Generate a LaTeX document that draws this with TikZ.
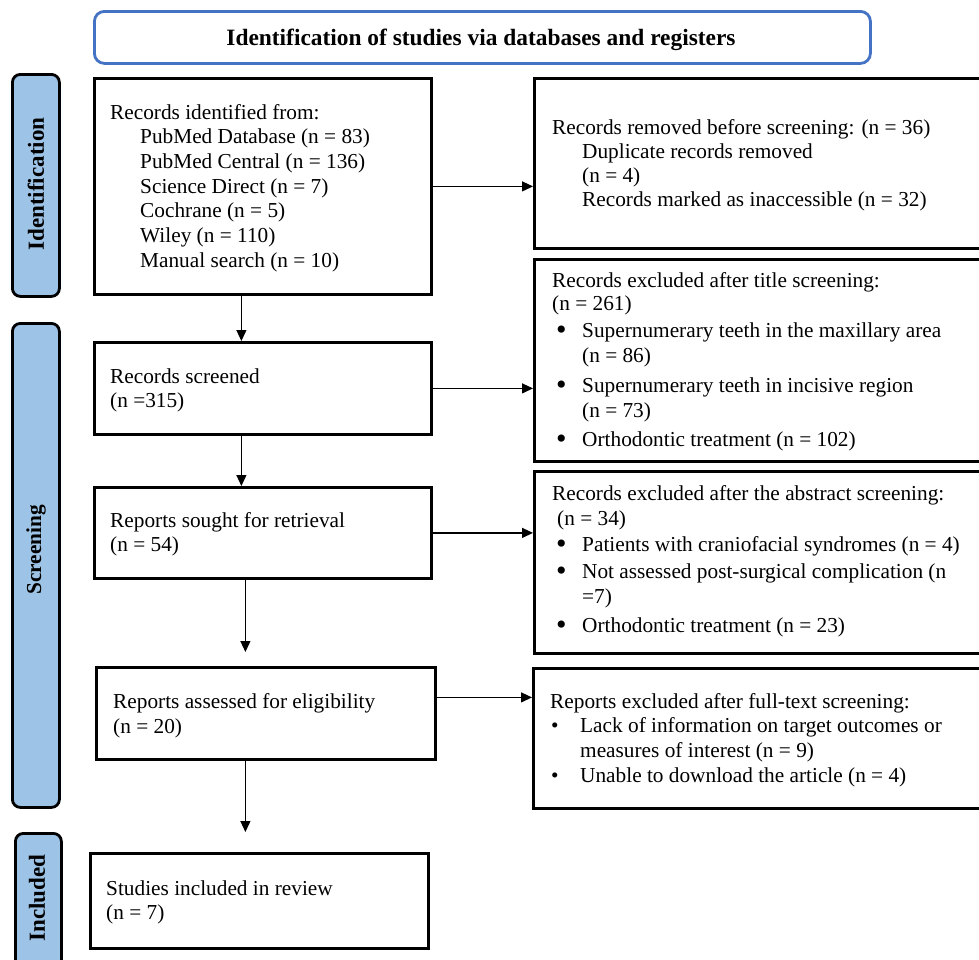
\documentclass[tikz,border=0pt]{standalone}
\usepackage{fontspec}
\setmainfont{Liberation Serif}
\usetikzlibrary{arrows.meta}
\definecolor{hdrblue}{HTML}{4472C4}
\definecolor{sidefill}{HTML}{9DC3E6}
\newcommand\blk[2]{\vtop{\baselineskip=#1pt\lineskiplimit=-100pt\lineskip=0pt #2}}
\newcommand\tl[1]{\hbox{#1}}
\newcommand\gap[1]{\vskip#1pt}
\newcommand\bigbul[1]{\hbox{\hbox to 30pt{\kern4pt\raisebox{-2.5pt}{\fontsize{30}{30}\selectfont\textbullet}\hfil}#1}}
\newcommand\smbul[1]{\hbox{\hbox to 30pt{\kern1pt\textbullet\hfil}#1}}
\newcommand\ind[1]{\hbox{\kern30pt #1}}
\begin{document}
\begin{tikzpicture}[x=1pt,y=-1pt,
  box/.style={draw, line width=2.8pt, inner sep=0pt, anchor=north west},
  hdrbox/.style={draw=hdrblue, line width=2.8pt, rounded corners=10pt, inner sep=0pt, anchor=north west},
  side/.style={draw, fill=sidefill, line width=2.8pt, rounded corners=8pt, inner sep=0pt, anchor=north west},
  sidetxt/.style={rotate=90, font=\fontsize{23}{26}\selectfont\bfseries, inner sep=0pt},
  txt/.style={anchor=base west, inner sep=0pt, font=\fontsize{21.3}{25}\selectfont},
  conn/.style={line width=1.2pt, -{Triangle[length=11pt,width=10pt]}}]
\clip (0,0) rectangle (979,959);
\fill[white] (0,0) rectangle (979,959);

% header
\node[hdrbox, minimum width=776pt, minimum height=52pt] (hdr) at (93,10) {};
\node[anchor=base, inner sep=0pt, font=\fontsize{23.4}{26}\selectfont\bfseries] (hdrt) at (481,45) {Identification of studies via databases and registers};

% side bars
\node[side, minimum width=47pt, minimum height=222pt] (sid) at (11,73) {};
\node[sidetxt] (sidt) at (36,184) {Identification};
\node[side, minimum width=47pt, minimum height=484pt] (sscr) at (11,322) {};
\node[sidetxt, font=\fontsize{21.3}{25}\selectfont\bfseries] (sscrt) at (36,550) {Screening};
\node[side, minimum width=46pt, minimum height=170pt] (sinc) at (14,832) {};
\node[sidetxt] (sinct) at (37,898) {Included};

% boxes
\node[box, minimum width=337pt, minimum height=216pt] (A) at (93,77) {};
\node[box, minimum width=460pt, minimum height=170pt] (B) at (533,77) {};
\node[box, minimum width=337pt, minimum height=92pt] (C) at (93,341) {};
\node[box, minimum width=460pt, minimum height=202pt] (D) at (533,258) {};
\node[box, minimum width=337pt, minimum height=91pt] (E) at (93,486) {};
\node[box, minimum width=460pt, minimum height=182pt] (F) at (533,470) {};
\node[box, minimum width=339pt, minimum height=92pt] (G) at (95,666) {};
\node[box, minimum width=460pt, minimum height=140pt] (H) at (532,667) {};
\node[box, minimum width=338pt, minimum height=95pt] (I) at (89,852) {};

% texts
\node[txt] (At) at (110,119) {\blk{24.67}{\tl{Records identified from:}\ind{PubMed Database (n = 83)}\ind{PubMed Central (n = 136)}\ind{Science Direct (n = 7)}\ind{Cochrane (n = 5)}\ind{Wiley (n = 110)}\ind{Manual search (n = 10)}}};
\node[txt] (Bt) at (552,134) {\blk{24}{\tl{Records removed before screening: (n = 36)}\ind{Duplicate records removed}\ind{(n = 4)}\ind{Records marked as inaccessible (n = 32)}}};
\node[txt] (Ct) at (110,383) {\blk{24}{\tl{Records screened}\tl{(n =315)}}};
\node[txt] (Dt) at (552,287) {\blk{25}{\tl{Records excluded after title screening:}\gap{-2}\tl{(n = 261)}\gap{2}\bigbul{Supernumerary teeth in the maxillary area}\ind{(n = 86)}\gap{5}\bigbul{Supernumerary teeth in incisive region}\ind{(n = 73)}\gap{4}\bigbul{Orthodontic treatment (n = 102)}}};
\node[txt] (Et) at (110,527) {\blk{24}{\tl{Reports sought for retrieval}\tl{(n = 54)}}};
\node[txt] (Ft) at (552,500) {\blk{25}{\tl{Records excluded after the abstract screening:}\tl{\kern5pt(n = 34)}\gap{1}\bigbul{Patients with craniofacial syndromes (n = 4)}\gap{2}\bigbul{Not assessed post-surgical complication (n}\ind{=7)}\gap{4}\bigbul{Orthodontic treatment (n = 23)}}};
\node[txt] (Gt) at (113,708) {\blk{25}{\tl{Reports assessed for eligibility}\tl{(n = 20)}}};
\node[txt] (Ht) at (550,708) {\blk{24.67}{\tl{Reports excluded after full-text screening:}\smbul{Lack of information on target outcomes or}\ind{measures of interest (n = 9)}\smbul{Unable to download the article (n = 4)}}};
\node[txt] (It) at (106,895) {\blk{24}{\tl{Studies included in review}\tl{(n = 7)}}};

% connectors
\draw[conn] (A.east) -- (A.east -| B.west);
\draw[conn] (C.east) -- (C.east -| D.west);
\draw[conn] (E.east) -- (E.east -| F.west);
\draw[conn] ([yshift=16pt]G.east) -- ([yshift=16pt]G.east -| H.west);
\draw[conn] ([xshift=-21.5pt]A.south) -- ([xshift=-21.5pt]A.south |- C.north);
\draw[conn] ([xshift=-21.5pt]C.south) -- ([xshift=-21.5pt]C.south |- E.north);
\draw[conn, shorten >=14pt] ([xshift=-17.5pt]E.south) -- ([xshift=-17.5pt]E.south |- G.north);
\draw[conn, shorten >=20pt] ([xshift=-20.5pt]G.south) -- ([xshift=-20.5pt]G.south |- I.north);
\end{tikzpicture}
\end{document}
